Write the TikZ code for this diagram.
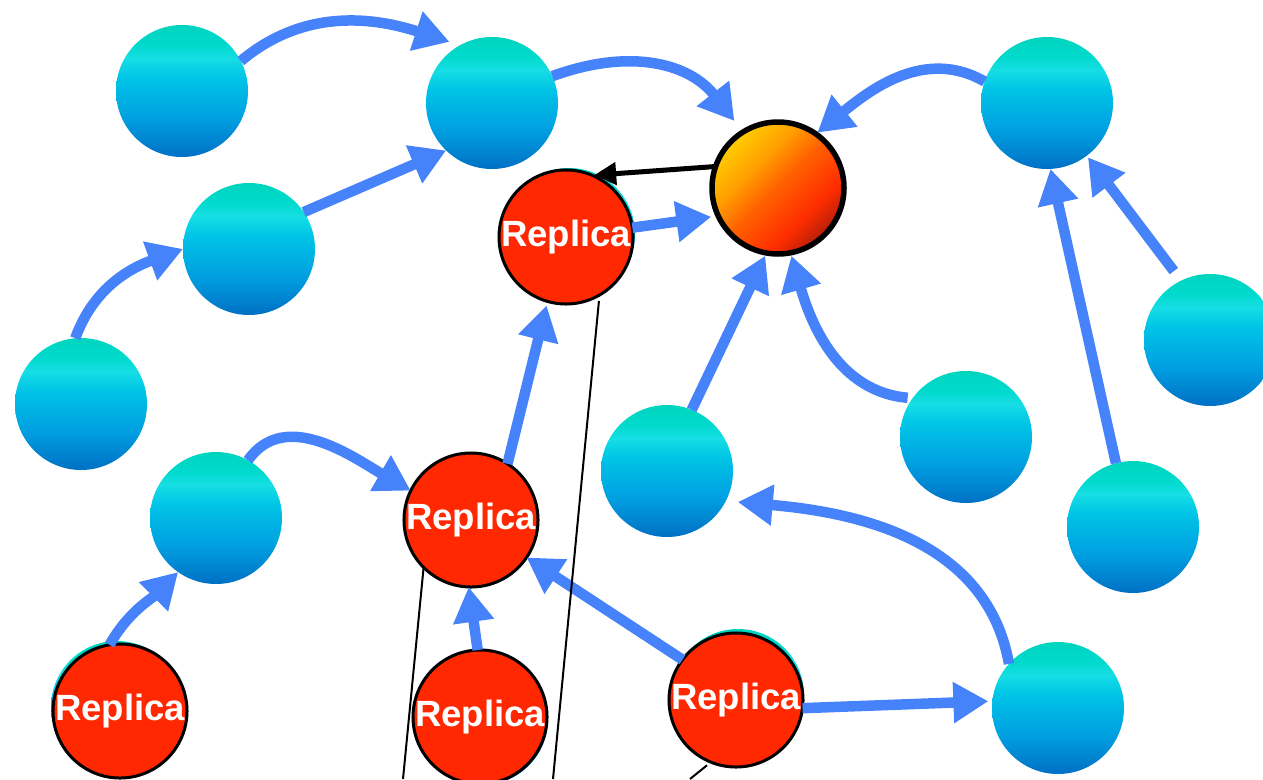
\documentclass[tikz,border=0pt]{standalone}
\usepackage{fontspec}
\setmainfont{Liberation Sans}
\usetikzlibrary{arrows.meta}
\definecolor{tA}{RGB}{0,212,190}
\definecolor{tB}{RGB}{0,218,205}
\definecolor{tC}{RGB}{22,222,228}
\definecolor{tD}{RGB}{0,196,230}
\definecolor{tE}{RGB}{0,160,225}
\definecolor{tF}{RGB}{0,112,196}
\definecolor{oA}{RGB}{255,205,0}
\definecolor{oB}{RGB}{255,160,0}
\definecolor{oC}{RGB}{255,95,0}
\definecolor{oD}{RGB}{255,45,0}
\definecolor{oE}{RGB}{180,30,10}
\definecolor{rep}{RGB}{255,40,0}
\definecolor{ablue}{RGB}{70,130,250}
\pgfdeclareverticalshading{tealball}{100bp}{color(0bp)=(tF); color(25bp)=(tF); color(40bp)=(tE); color(55bp)=(tD); color(62.5bp)=(tC); color(67.5bp)=(tB); color(75bp)=(tA); color(100bp)=(tA)}
\pgfdeclareverticalshading{orangeball}{100bp}{color(0bp)=(oE); color(25bp)=(oE); color(35bp)=(oD); color(50bp)=(oC); color(62bp)=(oB); color(75bp)=(oA); color(100bp)=(oA)}
\tikzset{
  ball/.style={circle, inner sep=0pt, outer sep=0pt, minimum size=132pt, shading=tealball},
  replica/.style={circle, inner sep=0pt, outer sep=0pt, minimum size=132pt, fill=rep, draw=black, line width=3pt,
     text=white, font=\fontsize{36.5}{36.5}\selectfont\bfseries},
  hub/.style={circle, inner sep=0pt, outer sep=0pt, minimum size=132pt, shading=orangeball, shading angle=45, draw=black, line width=5.5pt},
  flow/.style={line width=10.5pt, draw=ablue, -{Triangle[length=35pt,width=39pt]}},
  back/.style={line width=5pt, draw=black, -{Triangle[length=22pt,width=22pt]}},
  thin/.style={line width=2pt, draw=black}
}
\begin{document}
\begin{tikzpicture}[x=1pt,y=-1pt]
\useasboundingbox (0,0) rectangle (1263,779);
% teal discs peeking behind replicas
\node[ball] (r1b) at (569,234) {};
\node[ball] (r3b) at (117,707) {};
\node[ball] (r4b) at (482,719) {};
\node[ball] (r5b) at (738,695) {};
% plain nodes
\node[ball] (t1) at (182,91) {};
\node[ball] (t2) at (492,103) {};
\node[ball] (t3) at (249,249) {};
\node[ball] (t4) at (81,404) {};
\node[ball] (t5) at (216,518) {};
\node[ball] (t6) at (667,471) {};
\node[ball] (t7) at (966,437) {};
\node[ball] (t8) at (1047,103) {};
\node[ball] (t9) at (1210,340) {};
\node[ball] (t10) at (1133,527) {};
\node[ball] (t11) at (1058,708) {};
% hub
\node[hub] (o) at (778,188) {};
% replicas
\node[replica] (r1) at (566,237) {Replica};
\node[replica] (r2) at (471,520) {Replica};
\node[replica] (r3) at (120,711) {Replica};
\node[replica] (r4) at (480,717) {Replica};
\node[replica] (r5) at (736,700) {Replica};
% connectors
\draw[flow, shorten >=11pt] (t1.27) to[out=40,in=162] (t2.119);
\draw[flow, shorten >=14pt] (t2.24) to[out=20,in=128,looseness=1.1] (o.122);
\draw[flow, shorten >=2pt] (t8.161) to[out=150,in=39] (o.55);
\draw[flow] (t3.34) -- (t2.226);
\draw[flow] (t4.95) to[out=70,in=200] (t3.180);
\draw[flow, shorten >=7pt] (r1.8) -- (o.205);
\draw[back, shorten >=2pt] (o.161) -- (r1.67);
\draw[flow, shorten >=3pt] (t6.68) -- (o.260);
\draw[flow, shorten <=5pt, shorten >=3pt] (t7.144) to[out=175,in=-74] (o.281);
\draw[flow, shorten <=12pt, shorten >=2pt] (t9.116) -- (t8.307);
\draw[flow] (t10.105) -- (t8.273);
\draw[flow, shorten >=4pt] (r2.57) -- (r1.254);
\draw[flow] (t5.61) to[out=55,in=150] (r2.154);
\draw[flow] (r4.92) -- (r2.268);
\draw[flow] (r5.143) -- (r2.326);
\draw[flow] (r3.99) to[out=60,in=225] (t5.235);
\draw[flow, shorten >=4pt] (r5.353) -- (t11.174);
\draw[flow, shorten >=12pt] (t11.138) to[out=100,in=-5] (t6.333);
% thin lines
\coordinate (la) at (553,779);
\coordinate (lb) at (403,779);
\coordinate (lc) at (690,779);
\draw[thin, shorten <=6pt] (r1.-60) -- (la);
\draw[thin] (r2.225) -- (lb);
\draw[thin, shorten <=5pt] (r5.248) -- (lc);
\end{tikzpicture}
\end{document}
